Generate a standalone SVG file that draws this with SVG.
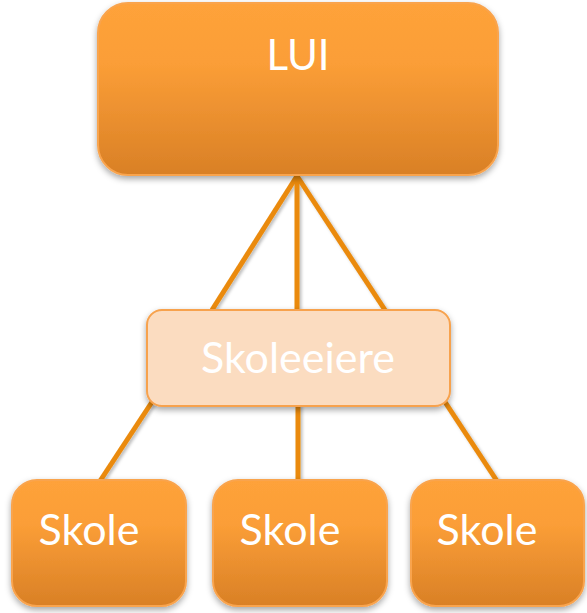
<svg xmlns="http://www.w3.org/2000/svg" width="587" height="613" viewBox="0 0 587 613">
<style>
.box{fill:url(#og);stroke:#F9A44E;stroke-width:2;filter:url(#sh)}
.light{fill:#FBDCC0;stroke:#F7A24E;stroke-width:2;filter:url(#sh)}
.t{font-family:Lato,"Open Sans","Liberation Sans",sans-serif;fill:#FFFFFF;text-anchor:middle}
.c{stroke:#EA8A0C;stroke-width:5;fill:none;stroke-linecap:butt}
</style>
<defs>
<linearGradient id="og" x1="0" y1="0" x2="0" y2="1">
<stop offset="0" stop-color="#FEA23A"/>
<stop offset="0.35" stop-color="#FB9E37"/>
<stop offset="1" stop-color="#D98026"/>
</linearGradient>
<filter id="sh" x="-10%" y="-10%" width="120%" height="130%">
<feDropShadow dx="0" dy="3" stdDeviation="3" flood-color="#000" flood-opacity="0.35"/>
</filter>
<filter id="lsh" filterUnits="userSpaceOnUse" x="0" y="0" width="587" height="613">
<feDropShadow dx="2" dy="2" stdDeviation="1.5" flood-color="#000" flood-opacity="0.25"/>
</filter>
</defs>
<g id="connectors" filter="url(#lsh)">
<line class="c" x1="297" y1="176" x2="212" y2="310"/>
<line class="c" x1="297" y1="176" x2="297" y2="310"/>
<line class="c" x1="297" y1="176" x2="385" y2="310"/>
<line class="c" x1="152" y1="402" x2="100" y2="481"/>
<line class="c" x1="298" y1="404" x2="298" y2="481"/>
<line class="c" x1="445" y1="402" x2="497" y2="481"/>
</g>
<g id="lui">
<rect class="box" x="98" y="3" width="400" height="172" rx="30"/>
<text class="t" x="298" y="70" font-size="42">LUI</text>
</g>
<g id="skoleeiere">
<rect class="light" x="147" y="310" width="303" height="96" rx="15"/>
<text class="t" x="298" y="373" font-size="43">Skoleeiere</text>
</g>
<g id="skole1">
<rect class="box" x="12" y="480" width="174" height="126" rx="25"/>
<text class="t" x="89" y="545" font-size="43">Skole</text>
</g>
<g id="skole2">
<rect class="box" x="213" y="480" width="174" height="126" rx="25"/>
<text class="t" x="290" y="545" font-size="43">Skole</text>
</g>
<g id="skole3">
<rect class="box" x="411" y="480" width="173" height="126" rx="25"/>
<text class="t" x="487" y="545" font-size="43">Skole</text>
</g>
</svg>
